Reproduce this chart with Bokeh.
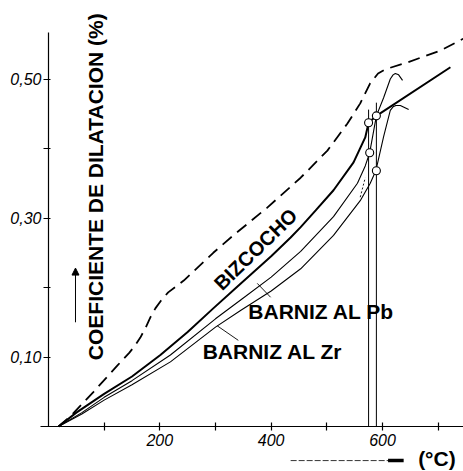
from bokeh.plotting import figure
from bokeh.models import Range1d, FixedTicker, Label, Arrow, NormalHead
from bokeh.embed import file_html
from bokeh.resources import INLINE

# ---- data (temperature in °C, expansion in %) ----
dashed_t = [18, 40, 81, 124, 145, 155, 165, 175, 183, 192, 202, 215, 230, 243, 296, 332, 393, 453, 501, 537, 560, 578, 592, 605, 645, 704, 745]
dashed_v = [0, 0.015, 0.050, 0.088, 0.106, 0.116, 0.128, 0.143, 0.157, 0.170, 0.181, 0.193, 0.202, 0.210, 0.250, 0.275, 0.315, 0.358, 0.397, 0.436, 0.465, 0.494, 0.508, 0.514, 0.524, 0.541, 0.558]

bizcocho_t = [18, 50, 100, 150, 201, 250, 296, 340, 368, 400, 435, 453, 480, 512, 548, 569, 575, 589, 722]
bizcocho_v = [0, 0.020, 0.047, 0.072, 0.103, 0.136, 0.170, 0.202, 0.222, 0.245, 0.272, 0.287, 0.311, 0.340, 0.380, 0.416, 0.437, 0.447, 0.517]

pb_t = [18, 60, 100, 150, 219, 300, 350, 400, 453, 512, 555, 569, 577, 589, 602, 614, 619, 623, 629, 636]
pb_v = [0, 0.020, 0.042, 0.066, 0.103, 0.155, 0.185, 0.215, 0.252, 0.302, 0.350, 0.375, 0.394, 0.447, 0.473, 0.500, 0.506, 0.508, 0.506, 0.498]

zr_t = [18, 60, 100, 150, 219, 300, 345, 400, 453, 512, 560, 578, 588, 602, 614, 619, 624, 632, 647]
zr_v = [0, 0.018, 0.038, 0.060, 0.093, 0.143, 0.167, 0.195, 0.227, 0.275, 0.325, 0.350, 0.368, 0.417, 0.455, 0.460, 0.462, 0.462, 0.456]

dotted_t = [560, 569]
dotted_v = [0.330, 0.358]

circle_t = [575, 589, 577, 589]
circle_v = [0.437, 0.447, 0.394, 0.368]

vline_t = [575, 589]
vline_top = [0.456, 0.466]

pb_pointer_t = [375, 399]
pb_pointer_v = [0.206, 0.186]
zr_pointer_t = [303, 341]
zr_pointer_v = [0.145, 0.124]

x_ticks = [100, 200, 300, 400, 500, 600, 700]
x_tick_labels = ["", "200", "", "400", "", "600", ""]
y_ticks = [0.1, 0.2, 0.3, 0.4, 0.5]
y_tick_labels = ["0,10", "", "0,30", "", "0,50"]

FONT = "Liberation Sans"

p = figure(width=463, height=471, x_range=Range1d(-86.2, 745.5), y_range=Range1d(-0.0647, 0.613),
           output_backend="svg", toolbar_location=None,
           min_border_left=0, min_border_bottom=0, min_border_top=0, min_border_right=0)
p.outline_line_color = None
p.xgrid.visible = False
p.ygrid.visible = False
p.background_fill_color = "white"
p.border_fill_color = "white"

# axes, fixed at the data origin
p.xaxis.fixed_location = 0
p.yaxis.fixed_location = 0
p.xaxis.bounds = (-14, 745.5)
p.yaxis.bounds = (0, 0.567)
p.xaxis.ticker = FixedTicker(ticks=x_ticks)
p.xaxis.major_label_overrides = {t: l for t, l in zip(x_ticks, x_tick_labels)}
p.xaxis.major_tick_in = 4
p.xaxis.major_tick_out = 4
p.xaxis.minor_tick_line_color = None
p.xaxis.major_label_standoff = 3
p.yaxis.ticker = FixedTicker(ticks=y_ticks)
p.yaxis.major_label_overrides = {t: l for t, l in zip(y_ticks, y_tick_labels)}
p.yaxis.major_tick_in = 2
p.yaxis.major_tick_out = 5
p.yaxis.minor_tick_line_color = None
p.yaxis.major_label_standoff = 2
for ax in (p.xaxis, p.yaxis):
    ax.axis_line_color = "black"
    ax.axis_line_width = 1.2
    ax.major_tick_line_color = "black"
    ax.major_tick_line_width = 1.2
    ax.major_label_text_font = FONT
    ax.major_label_text_font_style = "italic"
    ax.major_label_text_font_size = "16px"
    ax.major_label_text_color = "black"

# curves
p.line(dashed_t, dashed_v, line_color="black", line_width=1.8, line_dash="12 7")
p.line(bizcocho_t, bizcocho_v, line_color="black", line_width=2.0)
p.line(pb_t, pb_v, line_color="black", line_width=1.1)
p.line(zr_t, zr_v, line_color="black", line_width=1.1)
p.line(dotted_t, dotted_v, line_color="black", line_width=0.9, line_dash="2 2")
p.segment(x0=vline_t, y0=[0, 0], x1=vline_t, y1=vline_top, line_color="black", line_width=1.0)
p.line(pb_pointer_t, pb_pointer_v, line_color="black", line_width=0.9)
p.line(zr_pointer_t, zr_pointer_v, line_color="black", line_width=0.9)
p.scatter(circle_t, circle_v, marker="circle", size=8, fill_color="white", line_color="black", line_width=1.1)

# labels
p.add_layout(Label(x=372, y=0.255, text="BIZCOCHO", angle=0.77, text_align="center",
                   text_baseline="middle", text_font=FONT, text_font_style="bold",
                   text_font_size="20px", text_color="black"))
p.add_layout(Label(x=359, y=0.165, text="BARNIZ AL Pb", text_align="left",
                   text_baseline="middle", text_font=FONT, text_font_style="bold",
                   text_font_size="21px", text_color="black"))
p.add_layout(Label(x=277, y=0.108, text="BARNIZ AL Zr", text_align="left",
                   text_baseline="middle", text_font=FONT, text_font_style="bold",
                   text_font_size="21px", text_color="black"))
p.add_layout(Label(x=84.4, y=0.345, text="COEFICIENTE DE DILATACION (%)", angle=1.5708,
                   text_align="center", text_baseline="middle", text_font=FONT,
                   text_font_style="bold", text_font_size="21px", text_color="black"))
p.add_layout(Arrow(x_start=48.5, y_start=0.150, x_end=48.5, y_end=0.228,
                   line_color="black", line_width=1.0,
                   end=NormalHead(size=7, fill_color="black", line_color="black")))

# x-axis unit with arrow below the axis
p.line([435, 612], [-0.049, -0.049], line_color="black", line_width=0.8, line_dash="6 2")
p.line([610, 638], [-0.049, -0.049], line_color="black", line_width=3.5)
p.add_layout(Label(x=664, y=-0.046, text="(°C)", text_align="left", text_baseline="middle",
                   text_font=FONT, text_font_style="bold", text_font_size="21px",
                   text_color="black"))

open("out.html", "w").write(file_html(p, INLINE))
